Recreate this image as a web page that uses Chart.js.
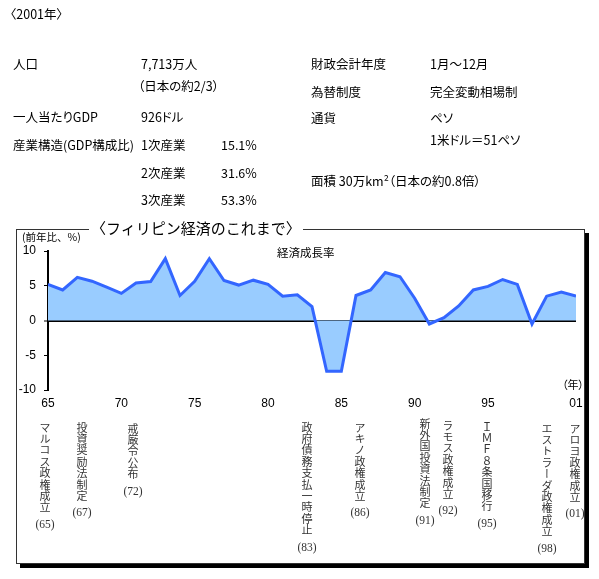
<!DOCTYPE html>
<html><head><meta charset="utf-8">
<script src="https://cdn.jsdelivr.net/npm/chart.js@4/dist/chart.umd.min.js"></script>
<style>
html,body{margin:0;padding:0;background:#fff;}
body{width:599px;height:579px;position:relative;overflow:hidden;font-family:"Noto Sans CJK JP",sans-serif;}
.t{position:absolute;font-size:12.5px;line-height:16px;white-space:nowrap;color:#000;transform:translateY(-50%);font-feature-settings:"palt";}
#box{position:absolute;left:16px;top:229px;width:567px;height:333px;border:1px solid #333;box-shadow:4px 4px 0 0 #000;}
#wrap{position:absolute;left:0;top:0;width:599px;height:579px;}
#title{position:absolute;left:89px;top:228px;transform:translateY(-50%);background:#fff;font-size:15px;line-height:18px;padding:0 2px;white-space:nowrap;}
.v{position:absolute;writing-mode:vertical-rl;text-orientation:upright;font-size:11px;line-height:14px;letter-spacing:0.4px;color:#333;white-space:nowrap;}
.p{position:absolute;font-family:"Liberation Serif",serif;font-size:11.5px;line-height:12px;color:#333;transform:translate(-50%,-50%);white-space:nowrap;}
</style></head>
<body>
<div id="box"></div>
<div id="wrap"><canvas id="c"></canvas></div>

<div class="t" style="left:10px;top:14px">〈2001年〉</div>
<div class="t" style="left:13px;top:64px">人口</div>
<div class="t" style="left:141px;top:64px">7,713万人</div>
<div class="t" style="left:138px;top:86px">（日本の約2/3）</div>
<div class="t" style="left:13px;top:117px">一人当たりGDP</div>
<div class="t" style="left:141px;top:117px">926ドル</div>
<div class="t" style="left:13px;top:145px">産業構造(GDP構成比)</div>
<div class="t" style="left:141px;top:145px">1次産業</div>
<div class="t" style="left:221px;top:145px">15.1%</div>
<div class="t" style="left:141px;top:173px">2次産業</div>
<div class="t" style="left:221px;top:173px">31.6%</div>
<div class="t" style="left:141px;top:200px">3次産業</div>
<div class="t" style="left:221px;top:200px">53.3%</div>
<div class="t" style="left:311px;top:64px">財政会計年度</div>
<div class="t" style="left:430px;top:64px">1月～12月</div>
<div class="t" style="left:311px;top:92px">為替制度</div>
<div class="t" style="left:430px;top:92px">完全変動相場制</div>
<div class="t" style="left:311px;top:118px">通貨</div>
<div class="t" style="left:430px;top:118px">ペソ</div>
<div class="t" style="left:430px;top:140px">1米ドル＝51ペソ</div>
<div class="t" style="left:311px;top:181px">面積 30万km²（日本の約0.8倍）</div>

<div id="title">〈フィリピン経済のこれまで〉</div>
<div class="t" style="left:22px;top:237px;font-size:10.5px;font-feature-settings:normal">(前年比、%)</div>
<div class="t" style="left:277px;top:252px;font-size:11.5px">経済成長率</div>
<div class="t" style="left:562px;top:384px;font-size:11px">（年）</div>

<script>
// ---- data ----
const YEARS = [1965,1966,1967,1968,1969,1970,1971,1972,1973,1974,
               1975,1976,1977,1978,1979,1980,1981,1982,1983,1984,
               1985,1986,1987,1988,1989,1990,1991,1992,1993,1994,
               1995,1996,1997,1998,1999,2000,2001];
const GROWTH = [5.2,4.4,6.2,5.65,4.8,3.9,5.4,5.6,8.9,3.6,
                5.65,8.9,5.75,5.1,5.8,5.2,3.5,3.7,2.0,-7.3,
                -7.3,3.6,4.4,6.9,6.3,3.2,-0.5,0.4,2.1,4.4,
                4.9,5.9,5.2,-0.5,3.5,4.1,3.5];
const TICK_YEARS = [1965,1970,1975,1980,1985,1990,1995,2001];
const TICK_LABELS = ['65','70','75','80','85','90','95','01'];
const Y_TICKS = [-10,-5,0,5,10];
const NOTE_TEXT = ['マルコス政権成立','投資奨励法制定','戒厳令公布','政府債務支払一時停止','アキノ政権成立',
                   '新外国投資法制定','ラモス政権成立','ＩＭＦ８条国移行','エストラーダ政権成立','アロヨ政権成立'];
const NOTE_YEAR = ['(65)','(67)','(72)','(83)','(86)','(91)','(92)','(95)','(98)','(01)'];

// ---- layout (pixels) ----
const NOTE_X = [45,82,133,307,360,425,448,487,547,575];
const NOTE_Y = [427,427,428,427,427,423,425,426,428,428];
const CHAR_STEP = 11.4;

NOTE_TEXT.forEach((txt,i)=>{
  const d = document.createElement('div');
  d.className='v'; d.textContent=txt;
  d.style.left=(NOTE_X[i]-7)+'px'; d.style.top=(NOTE_Y[i]-5.5)+'px';
  document.body.appendChild(d);
  const p = document.createElement('div');
  p.className='p'; p.textContent=NOTE_YEAR[i];
  p.style.left=NOTE_X[i]+'px';
  p.style.top=(NOTE_Y[i]+(Array.from(txt).length-1)*CHAR_STEP+17)+'px';
  document.body.appendChild(p);
});

new Chart(document.getElementById('c'), {
  type:'line',
  data:{datasets:[{
    data: YEARS.map((y,i)=>({x:y,y:GROWTH[i]})),
    borderColor:'#3366ff', backgroundColor:'#99ccff', borderWidth:3,
    fill:'origin', pointRadius:0, tension:0
  }]},
  options:{
    responsive:true, maintainAspectRatio:false, animation:false,
    layout:{autoPadding:false, padding:{left:8,right:23,top:251,bottom:169}},
    plugins:{legend:{display:false}, tooltip:{enabled:false}},
    scales:{
      x:{type:'linear', min:1965, max:2001,
        afterBuildTicks:s=>{s.ticks=TICK_YEARS.map(v=>({value:v}));},
        afterFit:s=>{s.height=20;},
        grid:{display:false, drawTicks:false}, border:{display:false},
        ticks:{autoSkip:false, maxRotation:0, padding:6, color:'#000',
          font:{family:'Liberation Sans',size:12},
          callback:(v,i)=>TICK_LABELS[i]}},
      y:{min:-10, max:10, z:1,
        afterBuildTicks:s=>{s.ticks=Y_TICKS.map(v=>({value:v}));},
        afterFit:s=>{s.width=40;},
        border:{display:true,color:'#000',width:2},
        grid:{color:c=>(c.tick&&c.tick.value===0)?'#000':'rgba(0,0,0,0)',
              lineWidth:c=>(c.tick&&c.tick.value===0)?2:1,
              tickColor:'#000', tickLength:4, tickWidth:1},
        ticks:{color:'#000', padding:8, font:{family:'Liberation Sans',size:12}}}
    }
  }
});
</script>
</body></html>
